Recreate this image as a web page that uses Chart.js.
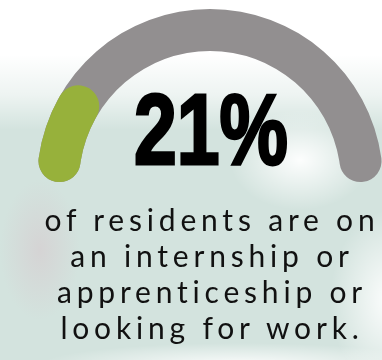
<!DOCTYPE html>
<html lang="en">
<head>
  <meta charset="UTF-8" />
  <meta name="viewport" content="width=device-width, initial-scale=1.0" />
  <!-- Chart.js CDN -->
  <script src="https://cdn.jsdelivr.net/npm/chart.js"></script>
  <title>Residents in internships or looking for work</title>
  <style>
    html, body { margin: 0; padding: 0; }
    body {
      width: 382px;
      height: 360px;
      overflow: hidden;
      position: relative;
      background:
        radial-gradient(ellipse 70px 50px at 300px 160px, rgba(255,255,255,0.95), rgba(255,255,255,0)),
        radial-gradient(ellipse 60px 90px at 390px 300px, rgba(255,255,255,0.95), rgba(255,255,255,0)),
        radial-gradient(ellipse 200px 22px at 240px 365px, rgba(255,255,255,0.9), rgba(255,255,255,0)),
        radial-gradient(ellipse 40px 70px at 40px 250px, rgba(214,205,208,0.7), rgba(214,205,208,0)),
        linear-gradient(to bottom, #ffffff 0px, #ffffff 55px, rgba(255,255,255,0.6) 95px, rgba(255,255,255,0) 130px),
        #d3e3de;
    }
    .gauge { position: absolute; left: 0; top: 0; width: 400px; height: 230px; }
    #bigValue {
      position: absolute;
      left: 0;
      top: 79px;
      width: 422px;
      text-align: center;
      font-family: "Liberation Sans", Arial, sans-serif;
      font-weight: bold;
      font-size: 100px;
      line-height: 100px;
      color: #000;
      -webkit-text-stroke: 3px #000;
      transform: scaleX(0.77);
      transform-origin: 211px 0;
    }
    #caption {
      position: absolute;
      left: 2px;
      top: 201px;
      width: 420px;
      text-align: center;
      font-family: Lato, sans-serif;
      font-size: 30px;
      line-height: 36px;
      letter-spacing: 4.8px;
      color: #111;
    }
  </style>
</head>
<body>
  <!-- grey track and green share drawn as two stacked half doughnuts -->
  <div class="gauge"><canvas id="trackChart"></canvas></div>
  <div class="gauge"><canvas id="shareChart"></canvas></div>

  <div id="bigValue"></div>
  <div id="caption">of residents are on<br>an internship or<br>apprenticeship or<br>looking for work.</div>

  <script>
    const shareLabels = ['Internship, apprenticeship or looking for work', 'Other residents'];
    const shareValues = [21, 79];
    const trackValues = [100];

    const trackColor = '#928f90';
    const shareColor = '#97b13b';

    document.getElementById('bigValue').textContent = shareValues[0] + '%';

    // half ring: chart area 346 wide x 173 tall gives a 173px outer radius
    function gaugeOptions() {
      return {
        responsive: true,
        maintainAspectRatio: false,
        animation: false,
        rotation: -90,
        circumference: 180,
        cutout: '75.7%',
        hoverOffset: 0,
        offset: 0,
        spacing: 0,
        layout: { padding: { left: 37, right: 17, top: 9, bottom: 48 } },
        plugins: { legend: { display: false }, tooltip: { enabled: false } },
        events: []
      };
    }

    new Chart(document.getElementById('trackChart'), {
      type: 'doughnut',
      data: {
        labels: ['Track'],
        datasets: [{
          data: trackValues,
          backgroundColor: [trackColor],
          borderWidth: 0,
          borderRadius: 21
        }]
      },
      options: gaugeOptions()
    });

    new Chart(document.getElementById('shareChart'), {
      type: 'doughnut',
      data: {
        labels: shareLabels,
        datasets: [{
          data: shareValues,
          backgroundColor: [shareColor, 'rgba(0,0,0,0)'],
          borderWidth: 0,
          borderRadius: 21
        }]
      },
      options: gaugeOptions()
    });
  </script>
</body>
</html>
